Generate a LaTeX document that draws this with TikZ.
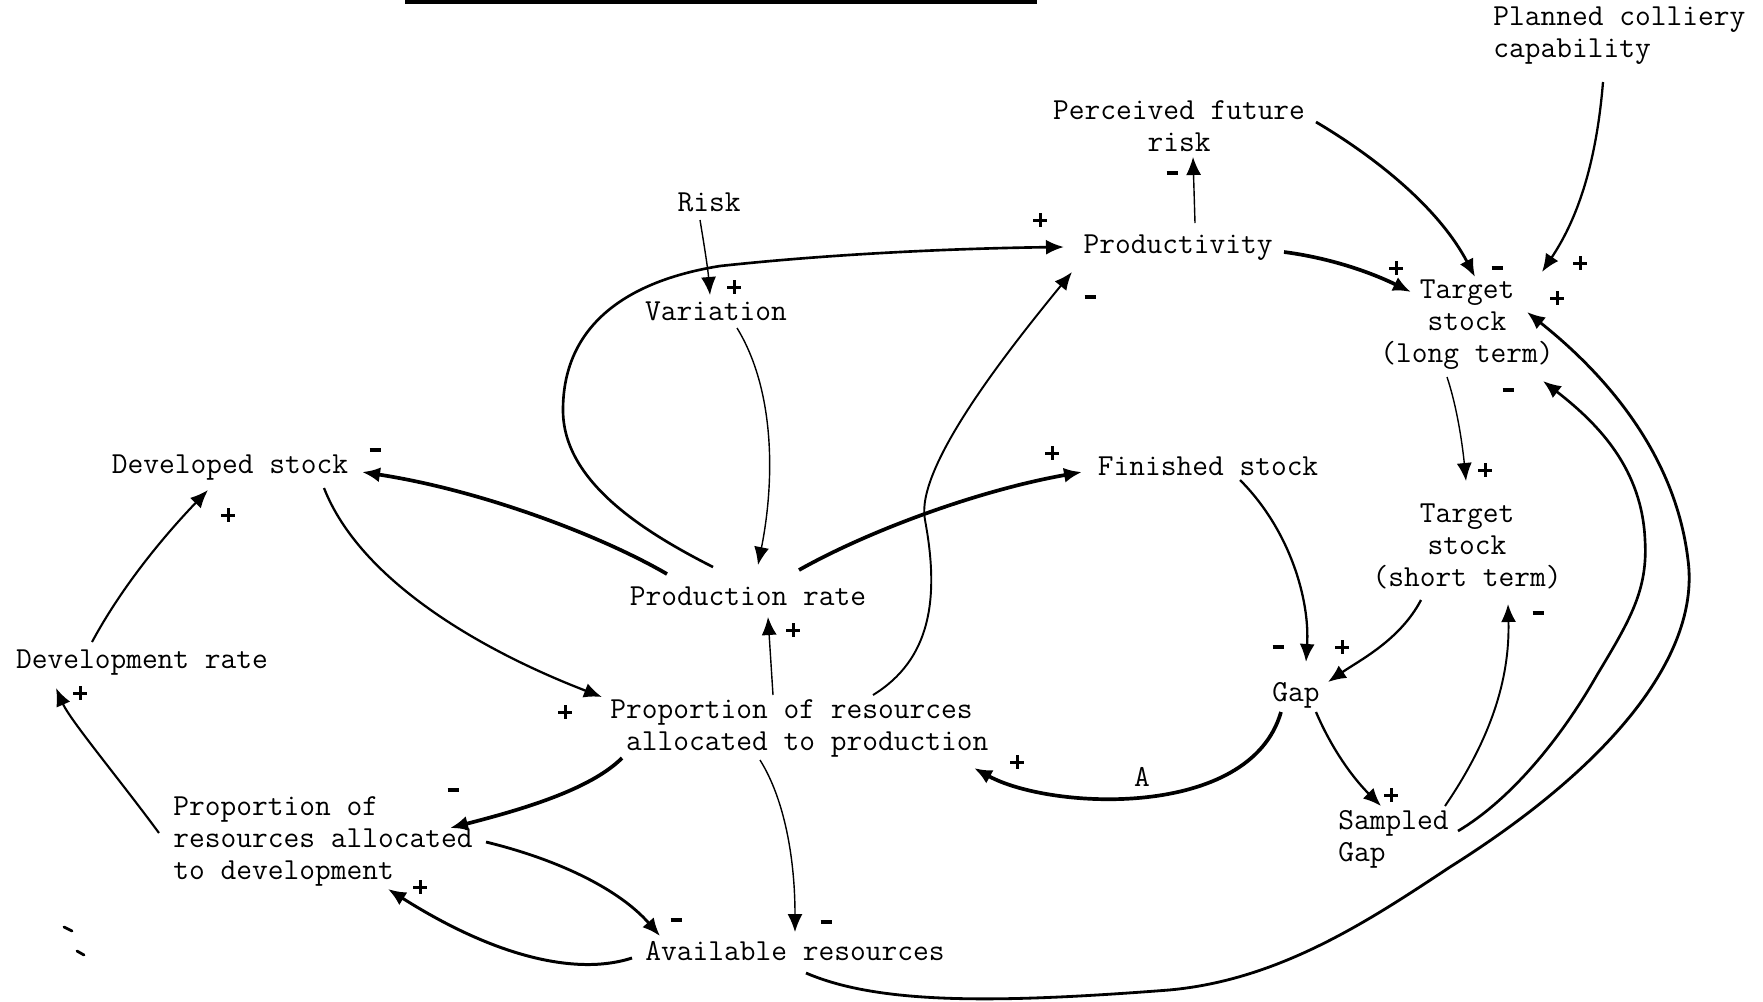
\documentclass[tikz,border=0pt]{standalone}
\usepackage{fontspec}
\usetikzlibrary{arrows.meta}
\newcommand{\diagfont}{\ttfamily\fontsize{17.4}{18.2}\selectfont}
\newcommand{\mneg}{\rule{2.2mm}{0.75mm}}
\newcommand{\mpos}{\makebox[2.7mm][l]{\rlap{\rule[1.05mm]{2.7mm}{0.6mm}}\hspace{1.05mm}\rule{0.6mm}{2.7mm}}}
\tikzset{
  varbox/.style={font=\diagfont, inner sep=0pt, align=center},
  sgn/.style={inner sep=0pt},
  lnk/.style={-{Latex[length=3.6mm,width=3mm]}, line width=1.3pt},
  lnkthin/.style={lnk, line width=0.8pt},
  lnkbold/.style={lnk, line width=2.1pt},
}
\begin{document}
\begin{tikzpicture}[x=0.2mm,y=-0.2mm]
		\useasboundingbox (0,0) rectangle (1763,1001);
		%Title rule
		\fill (405,0) rectangle (1037,4);
		%Variables
		\node[varbox, anchor=west, align=left] (plancap) at (1493,36) {Planned colliery\\capability};
		\node[varbox] (perrisk) at (1179,126) {Perceived future\\risk};
		\node[varbox] (risk) at (709,202) {Risk};
		\node[varbox] (variation) at (716,311) {Variation};
		\node[varbox] (productivity) at (1178,248) {Productivity};
		\node[varbox] (tlong) at (1467,325) {Target\\stock\\(long term)};
		\node[varbox] (devstock) at (230,468) {Developed stock};
		\node[varbox] (finstock) at (1208,466) {Finished stock};
		\node[varbox] (tshort) at (1467,546) {Target\\stock\\(short term)};
		\node[varbox] (prodrate) at (748,596) {Production rate};
		\node[varbox] (devrate) at (142,663) {Development rate};
		\node[varbox, anchor=west, align=left] (propprod) at (610,728) {Proportion of resources\\\phantom{a}allocated to production};
		\node[varbox] (gap) at (1296,695) {Gap};
		\node[varbox, anchor=west, align=left] (propdev) at (173,841) {Proportion of\\resources allocated\\to development};
		\node[varbox, anchor=west, align=left] (sampgap) at (1338,839) {Sampled\\Gap};
		\node[varbox] (avres) at (795,951) {Available resources};
		\node[varbox] (lblA) at (1142,777) {A};
		%Links, top part
		\draw[lnkthin] ([shift={(-9,18)}]risk.center) .. controls +(5,30) and +(-2,-25) .. ([shift={(-6,-16)}]variation.center);
		\draw[lnkthin] ([shift={(21,17)}]variation.center) .. controls +(38,62) and +(17,-85) .. ([shift={(10,-31)}]prodrate.center);
		\draw[lnk, line width=1.5pt] ([shift={(-35,-29)}]prodrate.center) .. controls (640,530) and (563,480) .. (563,410) .. controls (563,330) and (620,282) .. (720,266) .. controls (850,252) and (980,248) .. ([shift={(-114,-1)}]productivity.center);
		\draw[lnk, line width=1.1pt] ([shift={(263,-33)}]propprod.west) .. controls (930,660) and (940,600) .. (925,520) .. controls (915,470) and (1000,360) .. ([shift={(-106,24)}]productivity.center);
		\draw[lnkthin] ([shift={(17,-25)}]productivity.center) -- ([shift={(14,31)}]perrisk.center);
		\draw[lnkbold] ([shift={(106,4)}]productivity.center) .. controls +(46,6) and +(-41,-20) .. ([shift={(-56,-33)}]tlong.center);
		\draw[lnk, line width=1.6pt] ([shift={(137,-4)}]perrisk.center) .. controls +(64,38) and +(-35,-67) .. ([shift={(8,-48)}]tlong.center);
		\draw[lnk] ([shift={(110,46)}]plancap.west) .. controls +(-8,98) and +(28,-42) .. ([shift={(75,-53)}]tlong.center);
		\draw[lnkthin] ([shift={(-20,52)}]tlong.center) .. controls +(11,33) and +(-3,-31) .. ([shift={(-1,-65)}]tshort.center);
		%Links, right loops
		\draw[lnk, line width=1.5pt] ([shift={(120,-8)}]sampgap.west) .. controls (1510,800) and (1560,740) .. (1597,675) .. controls (1630,620) and (1648,590) .. (1645,540) .. controls (1642,470) and (1600,425) .. ([shift={(76,56)}]tlong.center);
		\draw[lnk, line width=1.6pt] ([shift={(11,22)}]avres.center) .. controls (880,1005) and (1000,1003) .. (1169,990) .. controls (1280,980) and (1370,920) .. (1450,867) .. controls (1620,760) and (1700,650) .. (1688,560) .. controls (1675,450) and (1600,370) .. ([shift={(60,-13)}]tlong.center);
		\draw[lnk] ([shift={(32,14)}]finstock.center) .. controls +(50,50) and +(4,-62) .. ([shift={(10,-33)}]gap.center);
		\draw[lnk] ([shift={(-46,54)}]tshort.center) .. controls +(-21,40) and +(32,-22) .. ([shift={(32,-13)}]gap.center);
		\draw[lnk] ([shift={(20,17)}]gap.center) .. controls +(14,33) and +(-31,-31) .. ([shift={(43,-33)}]sampgap.west);
		\draw[lnk, line width=1.1pt] ([shift={(107,-33)}]sampgap.west) .. controls +(45,-66) and +(2,76) .. ([shift={(41,58)}]tshort.center);
		\draw[lnkbold] ([shift={(-15,17)}]gap.center) .. controls +(-31,108) and +(76,42) .. ([shift={(364,40)}]propprod.west);
		%Links, centre and left
		\draw[lnkbold] ([shift={(-81,-22)}]prodrate.center) .. controls +(-67,-39) and +(118,18) .. ([shift={(132,4)}]devstock.center);
		\draw[lnkbold] ([shift={(51,-26)}]prodrate.center) .. controls +(71,-40) and +(-102,18) .. ([shift={(-126,6)}]finstock.center);
		\draw[lnk] ([shift={(94,20)}]devstock.center) .. controls +(36,92) and +(-122,-47) .. ([shift={(-8,-31)}]propprod.west);
		\draw[lnkthin] ([shift={(163,-33)}]propprod.west) -- ([shift={(20,21)}]prodrate.center);
		\draw[lnk, line width=1.2pt] ([shift={(-50,-21)}]devrate.center) .. controls +(28,-52) and +(-48,50) .. ([shift={(-22,22)}]devstock.center);
		\draw[lnk, line width=1.2pt] ([shift={(-14,-8)}]propdev.west) .. controls +(-39,-53) and +(14,32) .. ([shift={(-86,25)}]devrate.center);
		\draw[lnkbold] ([shift={(12,30)}]propprod.west) .. controls +(-32,32) and +(70,-18) .. ([shift={(277,-13)}]propdev.west);
		\draw[lnkthin] ([shift={(150,32)}]propprod.west) .. controls +(25,40) and +(0,-72) .. ([shift={(0,-19)}]avres.center);
		\draw[lnk, line width=1.6pt] ([shift={(313,1)}]propdev.west) .. controls +(74,18) and +(-40,-46) .. ([shift={(-135,-15)}]avres.center);
		\draw[lnk, line width=1.7pt] ([shift={(-163,7)}]avres.center) .. controls +(-52,17) and +(112,71) .. ([shift={(215,48)}]propdev.west);
		%Signs
		\foreach \x/\y/\s [count=\i] in {1040/220/\mpos, 734/287/\mpos, 1172/173/\mneg, 1090/297/\mneg, 1396/268/\mpos, 1497/268/\mneg, 1580/263/\mpos, 1557/298/\mpos, 1508/390/\mneg, 1485/470/\mpos, 375/450/\mneg, 228/515/\mpos, 1052/453/\mpos, 793/630/\mpos, 80/693/\mpos, 565/712/\mpos, 1278/647/\mneg, 1342/647/\mpos, 1538/613/\mneg, 1017/762/\mpos, 1391/795/\mpos, 453/790/\mneg, 420/887/\mpos, 676/920/\mneg, 826/922/\mneg}
			\node[sgn] (sg\i) at (\x,\y) {\s};
		%Marks
		\draw[line width=1.6pt, line cap=round] (64,927) -- (72,931);
		\draw[line width=1.6pt, line cap=round] (77,951) -- (84,955);
\end{tikzpicture}
\end{document}
